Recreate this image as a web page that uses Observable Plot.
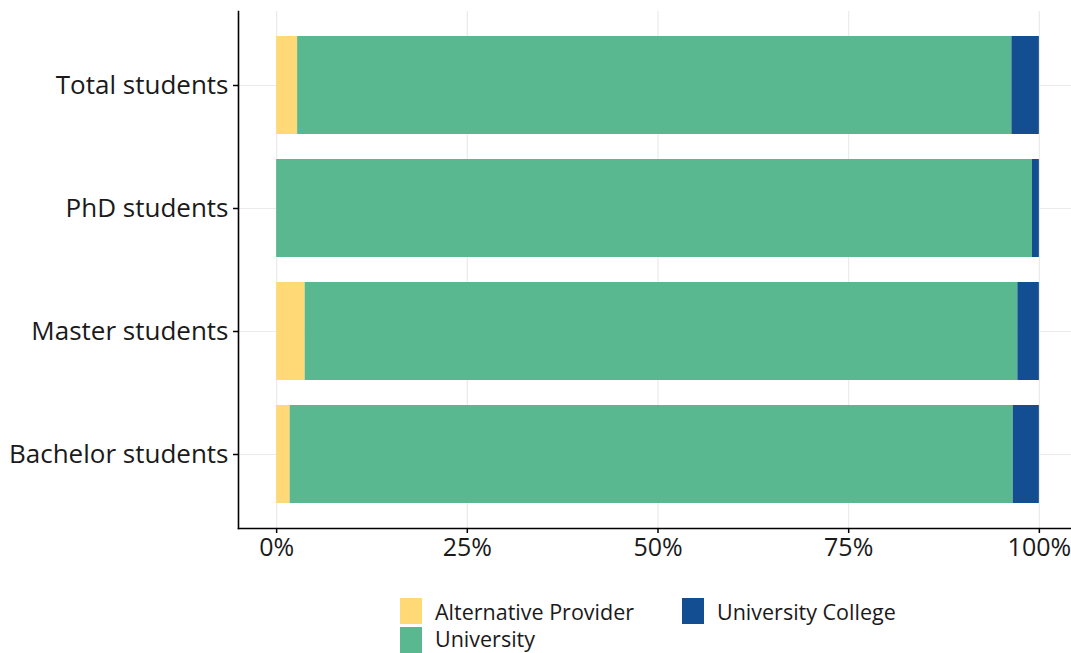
<!DOCTYPE html>
<html>
<head>
<meta charset="utf-8">
<script src="https://cdn.jsdelivr.net/npm/d3@7"></script>
<script src="https://cdn.jsdelivr.net/npm/@observablehq/plot@0.6"></script>
<style>
  html, body { margin: 0; padding: 0; background: #fff; }
  #wrap { position: relative; width: 1071px; height: 653px; overflow: hidden; font-family: "Open Sans", sans-serif; }
  #legend { position: absolute; left: 400px; top: 598px; display: grid; grid-template-columns: 282px auto; grid-auto-flow: column; grid-template-rows: 29px 26px; }
  .item { display: flex; align-items: center; font-size: 21.5px; line-height: 22px; color: #1a1a1a; white-space: nowrap; }
  .sw { width: 22px; height: 26px; margin-right: 13px; flex: none; align-self: flex-start; }
  .item span { margin-top: -2px; }
</style>
</head>
<body>
<div id="wrap">
  <div id="chart"></div>
  <div id="legend"></div>
</div>
<script>
const categories = ["Total students", "PhD students", "Master students", "Bachelor students"];
const providers = ["Alternative Provider", "University", "University College"];
const providerColors = ["#fed976", "#5ab890", "#124e91"];
const altProvider = [2.75, 0, 3.74, 1.77];
const university = [93.65, 99.1, 93.44, 94.8];
const univCollege = [3.6, 0.9, 2.82, 3.43];
const xTicks = [0, 0.25, 0.5, 0.75, 1];

const series = [altProvider, university, univCollege];
const data = [];
categories.forEach((c, i) => {
  providers.forEach((p, j) => {
    data.push({category: c, provider: p, share: series[j][i] / 100});
  });
});

const H = 590;
const chart = Plot.plot({
  width: 1071,
  height: H,
  marginLeft: 238,
  marginRight: 0,
  marginTop: 11,
  marginBottom: H - 528,
  style: {fontFamily: "Open Sans, sans-serif", color: "#1a1a1a", background: "#fff"},
  x: {domain: [-0.05, 1.05], range: [238, 1077]},
  y: {domain: categories, range: [11, 528], padding: 0.2},
  color: {domain: providers, range: providerColors},
  marks: [
    Plot.gridX(xTicks, {stroke: "#ebebeb", strokeOpacity: 1, strokeWidth: 1.2}),
    Plot.gridY(categories, {stroke: "#ebebeb", strokeOpacity: 1, strokeWidth: 1.2}),
    Plot.barX(data, Plot.stackX({y: "category", x: "share", fill: "provider", order: null})),
    Plot.frame({anchor: "left", stroke: "#000", strokeWidth: 1.6}),
    Plot.frame({anchor: "bottom", stroke: "#000", strokeWidth: 1.6}),
    Plot.axisX(xTicks, {tickFormat: d3.format(".0%"), tickSize: 5, tickPadding: 5, fontSize: 25, label: null, strokeWidth: 1.5, stroke: "#000"}),
    Plot.axisY({tickSize: 5, tickPadding: 5, fontSize: 26, label: null, strokeWidth: 1.5, stroke: "#000"})
  ]
});
document.getElementById("chart").appendChild(chart);

const legend = document.getElementById("legend");
providers.forEach((p, i) => {
  const item = document.createElement("div");
  item.className = "item";
  const sw = document.createElement("div");
  sw.className = "sw";
  sw.style.background = providerColors[i];
  const t = document.createElement("span");
  t.textContent = p;
  item.appendChild(sw);
  item.appendChild(t);
  legend.appendChild(item);
});
</script>
</body>
</html>
